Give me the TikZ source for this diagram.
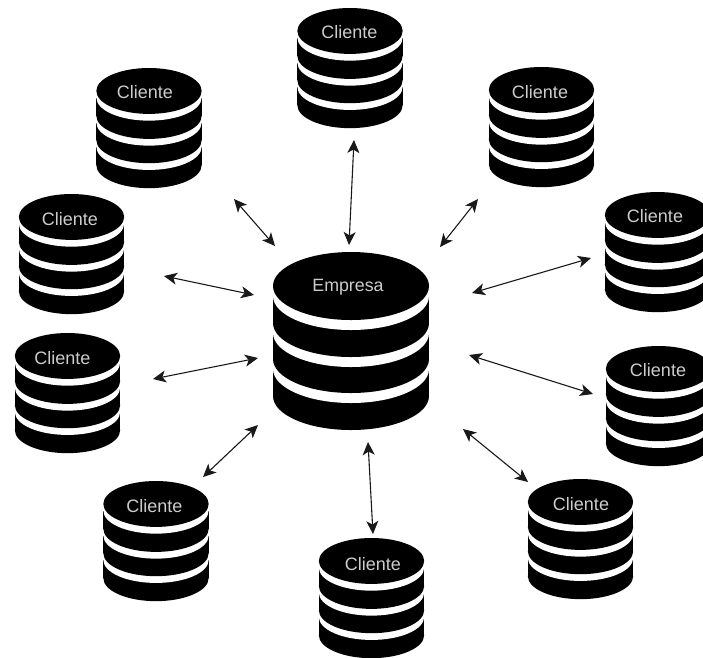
\documentclass[tikz,border=0pt]{standalone}
\usepackage{fontspec}
\setmainfont{Liberation Sans}
\usetikzlibrary{arrows.meta}
\tikzset{
  cylblack/.style={fill=black,draw=none},
  cylwhite/.style={fill=white,draw=none},
  cyltext/.style={text=white!80!black,inner sep=0pt,anchor=center},
  link/.style={draw=black!90,line width=1.1pt,{Stealth[length=13pt,width=12pt,inset=3.5pt]}-{Stealth[length=13pt,width=12pt,inset=3.5pt]}}
}
% name, cx, top, scale (1 = Empresa), font size, label, label x, label y
\newcommand{\dbstack}[8]{%
  \begin{scope}[shift={(#2,#3)},x=#4pt,y=-#4pt]
    \fill[cylblack] (-78,117) rectangle (78,144);
    \fill[cylblack] (0,144) ellipse [x radius=78,y radius=34];
    \fill[cylwhite] (0,117) ellipse [x radius=78,y radius=34];
    \fill[cylblack] (-78,81) rectangle (78,107);
    \fill[cylblack] (0,107) ellipse [x radius=78,y radius=34];
    \fill[cylwhite] (0,81) ellipse [x radius=78,y radius=34];
    \fill[cylblack] (-78,44) rectangle (78,71);
    \fill[cylblack] (0,71) ellipse [x radius=78,y radius=34];
    \fill[cylwhite] (0,44) ellipse [x radius=78,y radius=34];
    \fill[cylblack] (0,34) ellipse [x radius=78,y radius=34];
  \end{scope}
  \node[cyltext,font=\fontsize{#5}{#5}\selectfont] (#1) at (#7,#8) {#6};}
\begin{document}
\begin{tikzpicture}[x=1pt,y=-1pt]
\useasboundingbox (0,0) rectangle (703,657);
\fill[white] (0,0) rectangle (703,657);
\dbstack{emp}{351}{252}{1}{17.8}{Empresa}{348}{287}
\dbstack{c1}{350}{8}{0.675}{18}{Cliente}{349.5}{32}
\dbstack{c2}{149}{68}{0.675}{18}{Cliente}{145}{92}
\dbstack{c3}{541.5}{67}{0.675}{18}{Cliente}{540}{92}
\dbstack{c4}{71.5}{194}{0.675}{18}{Cliente}{70}{219}
\dbstack{c5}{67.5}{333}{0.675}{18}{Cliente}{62.5}{358}
\dbstack{c6}{657.5}{192}{0.675}{18}{Cliente}{655}{216}
\dbstack{c7}{658.5}{346}{0.675}{18}{Cliente}{658}{370}
\dbstack{c8}{580.5}{479}{0.675}{18}{Cliente}{581}{504}
\dbstack{c9}{156}{481}{0.675}{18}{Cliente}{154.5}{506}
\dbstack{c10}{371.5}{538}{0.675}{18}{Cliente}{373}{564}
\coordinate (a1) at (354,140); \coordinate (b1) at (349,245);
\coordinate (a2) at (234,199); \coordinate (b2) at (275,246);
\coordinate (a3) at (478,199); \coordinate (b3) at (440,247);
\coordinate (a4) at (164,276); \coordinate (b4) at (254,295);
\coordinate (a5) at (153,379); \coordinate (b5) at (258,358);
\coordinate (a6) at (591,258); \coordinate (b6) at (472,293);
\coordinate (a7) at (593,394); \coordinate (b7) at (469,355);
\coordinate (a8) at (528,482); \coordinate (b8) at (463,429);
\coordinate (a9) at (203,477); \coordinate (b9) at (258,425);
\coordinate (a10) at (373,534); \coordinate (b10) at (368,442);
\foreach \i in {1,...,10} \draw[link] (a\i) -- (b\i);
\end{tikzpicture}
\end{document}
